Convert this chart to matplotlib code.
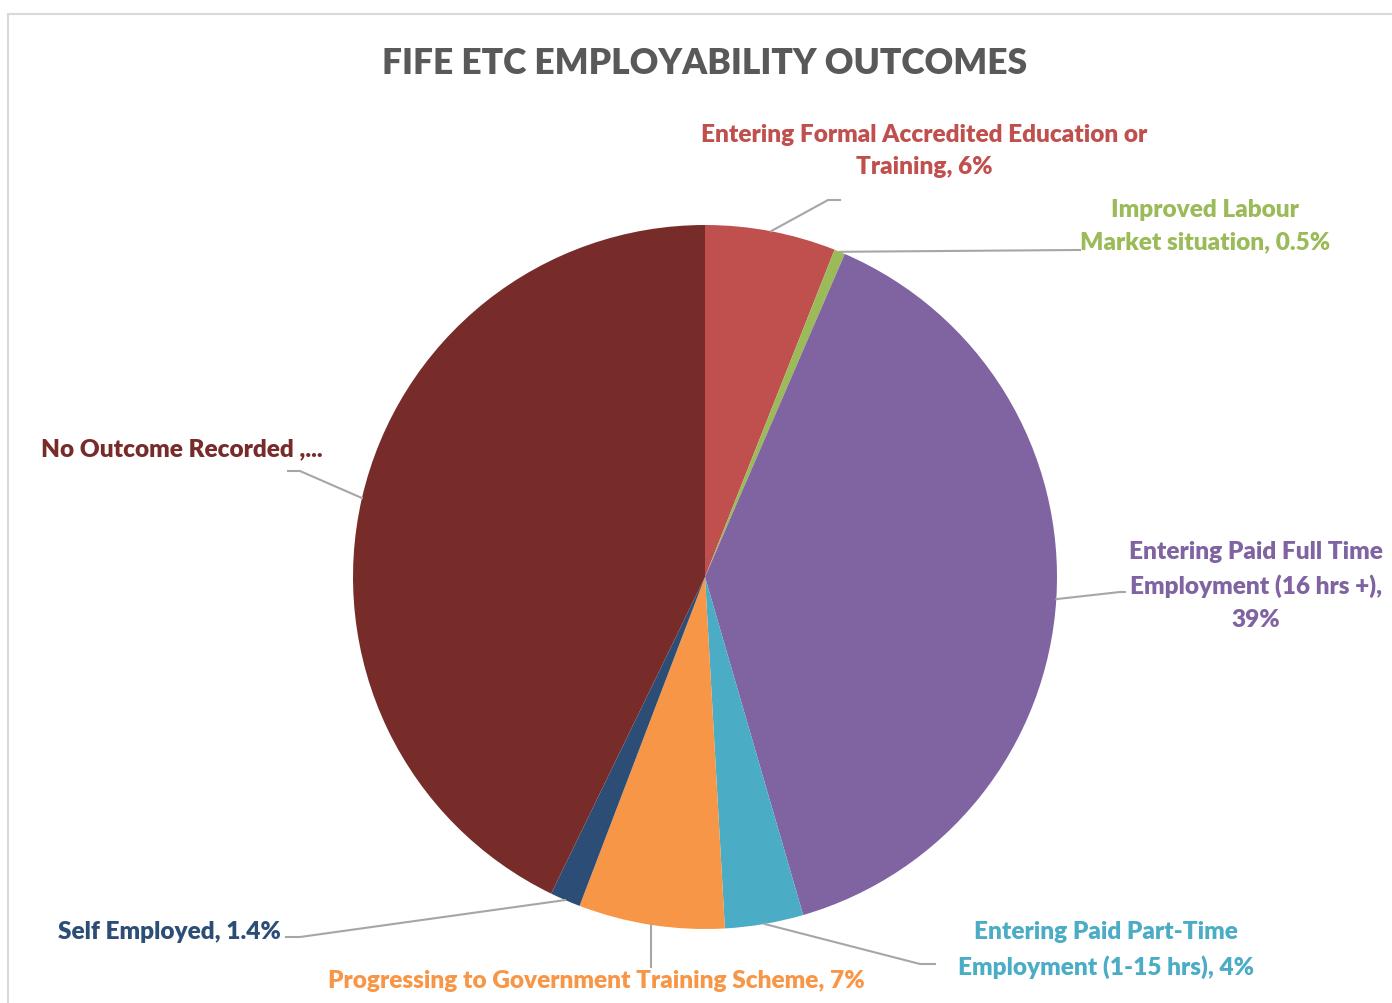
import numpy as np
import matplotlib
matplotlib.use("Agg")
import matplotlib.pyplot as plt
from matplotlib.patches import Rectangle

# 数据
categories = ["Entering Formal Accredited Education or\nTraining, 6%",
              "Improved Labour\nMarket situation, 0.5%",
              "Entering Paid Full Time\nEmployment (16 hrs +),\n39%",
              "Entering Paid Part-Time\nEmployment (1-15 hrs), 4%",
              "Progressing to Government Training Scheme, 7%",
              "Self Employed, 1.4%",
              "No Outcome Recorded ,..."]
values = [6.0, 0.5, 39.0, 3.6, 6.7, 1.4, 42.8]
colors = ["#C0504D", "#9BBB59", "#8064A2", "#4BACC6", "#F79646", "#2C4D75", "#772C2A"]

W, H = 1392, 1004
fig = plt.figure(figsize=(W / 100, H / 100), dpi=100)
ax = fig.add_axes([0, 0, 1, 1])
ax.set_xlim(0, W)
ax.set_ylim(0, H)
ax.set_aspect("equal")
ax.axis("off")

plt.rcParams['font.family'] = ['Lato', 'DejaVu Sans']

# 边框
ax.add_patch(Rectangle((8, -20), W + 20, H - 15 + 20, fill=False, ec="#D9D9D9", lw=1.5))

cx, cy, r = 705, H - 578, 352
wedges, _ = ax.pie(values, colors=colors, startangle=90, counterclock=False,
                   center=(cx, cy), radius=r, wedgeprops=dict(linewidth=0))
ax.set_xlim(0, W)
ax.set_ylim(0, H)

ax.text(705, H - 63, "FIFE ETC EMPLOYABILITY OUTCOMES", ha="center", va="center",
        fontsize=25.5, fontweight="heavy", color="#595959")

# 标签位置 (x, y 像素, 对齐) 和引线终点
label_pos = [(924, 151, "center"), (1205, 226, "center"), (1256, 586, "center"),
             (1106, 950, "center"), (596, 981, "center"), (281, 932, "right"),
             (41, 449, "left")]
line_end = [[(828, 201), (840, 201)], [(1077, 251), (1080, 251)],
            [(1120, 593), (1125, 593)], [(920, 965), (935, 965)],
            [(651, 968), (651, 968)], [(300, 938), (286, 938)],
            [(300, 472), (288, 472)]]

for w, lab, pos, ends, c in zip(wedges, categories, label_pos, line_end, colors):
    ang = np.deg2rad((w.theta1 + w.theta2) / 2)
    x0 = cx + r * np.cos(ang)
    y0 = cy + r * np.sin(ang)
    xs = [x0] + [p[0] for p in ends]
    ys = [y0] + [H - p[1] for p in ends]
    ax.plot(xs, ys, color="#A6A6A6", lw=1.5, zorder=1)
    ax.text(pos[0], H - pos[1], lab, ha=pos[2], va="center", color=c,
            fontsize=17.6, fontweight="heavy", linespacing=1.6, multialignment="center")

fig.savefig("out.png", dpi=100)
